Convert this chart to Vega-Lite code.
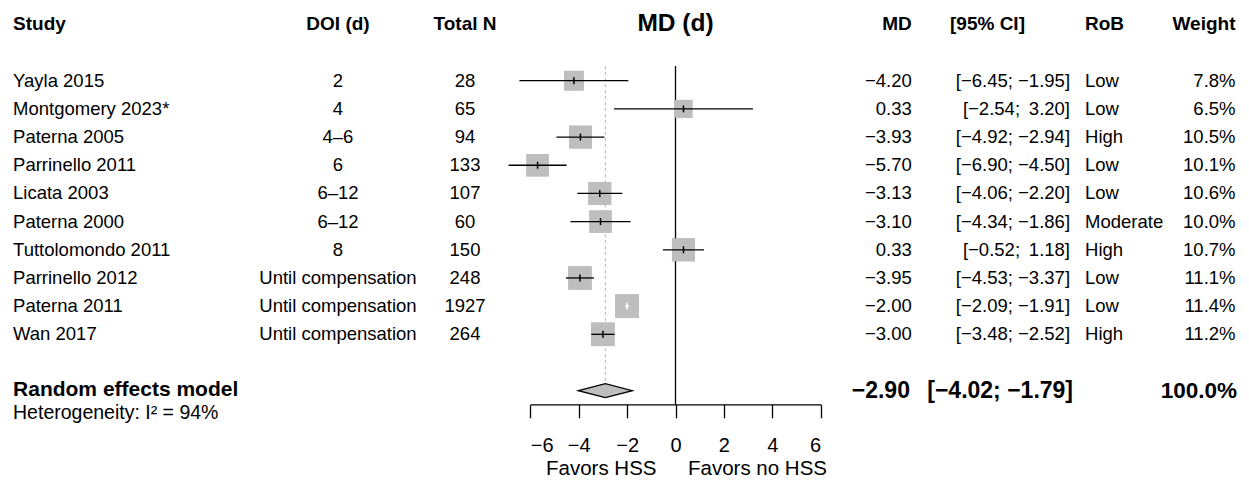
{
  "$schema": "https://vega.github.io/schema/vega-lite/v6.json",
  "width": 1249,
  "height": 487,
  "autosize": "none",
  "padding": 0,
  "background": "white",
  "config": {
    "view": {"stroke": null},
    "font": "Liberation Sans"
  },
  "datasets": {
    "studies": [
      {"row": 1, "study": "Yayla 2015", "doi": "2", "n": "28", "md": -4.20, "lo": -6.45, "hi": -1.95, "rob": "Low", "weight": 7.8, "mdLab": "−4.20", "ciLab": "[−6.45; −1.95]", "wLab": "7.8%"},
      {"row": 2, "study": "Montgomery 2023*", "doi": "4", "n": "65", "md": 0.33, "lo": -2.54, "hi": 3.20, "rob": "Low", "weight": 6.5, "mdLab": "0.33", "ciLab": "[−2.54; \u20093.20]", "wLab": "6.5%"},
      {"row": 3, "study": "Paterna 2005", "doi": "4–6", "n": "94", "md": -3.93, "lo": -4.92, "hi": -2.94, "rob": "High", "weight": 10.5, "mdLab": "−3.93", "ciLab": "[−4.92; −2.94]", "wLab": "10.5%"},
      {"row": 4, "study": "Parrinello 2011", "doi": "6", "n": "133", "md": -5.70, "lo": -6.90, "hi": -4.50, "rob": "Low", "weight": 10.1, "mdLab": "−5.70", "ciLab": "[−6.90; −4.50]", "wLab": "10.1%"},
      {"row": 5, "study": "Licata 2003", "doi": "6–12", "n": "107", "md": -3.13, "lo": -4.06, "hi": -2.20, "rob": "Low", "weight": 10.6, "mdLab": "−3.13", "ciLab": "[−4.06; −2.20]", "wLab": "10.6%"},
      {"row": 6, "study": "Paterna 2000", "doi": "6–12", "n": "60", "md": -3.10, "lo": -4.34, "hi": -1.86, "rob": "Moderate", "weight": 10.0, "mdLab": "−3.10", "ciLab": "[−4.34; −1.86]", "wLab": "10.0%"},
      {"row": 7, "study": "Tuttolomondo 2011", "doi": "8", "n": "150", "md": 0.33, "lo": -0.52, "hi": 1.18, "rob": "High", "weight": 10.7, "mdLab": "0.33", "ciLab": "[−0.52; \u20091.18]", "wLab": "10.7%"},
      {"row": 8, "study": "Parrinello 2012", "doi": "Until compensation", "n": "248", "md": -3.95, "lo": -4.53, "hi": -3.37, "rob": "Low", "weight": 11.1, "mdLab": "−3.95", "ciLab": "[−4.53; −3.37]", "wLab": "11.1%"},
      {"row": 9, "study": "Paterna 2011", "doi": "Until compensation", "n": "1927", "md": -2.00, "lo": -2.09, "hi": -1.91, "rob": "Low", "weight": 11.4, "mdLab": "−2.00", "ciLab": "[−2.09; −1.91]", "wLab": "11.4%"},
      {"row": 10, "study": "Wan 2017", "doi": "Until compensation", "n": "264", "md": -3.00, "lo": -3.48, "hi": -2.52, "rob": "High", "weight": 11.2, "mdLab": "−3.00", "ciLab": "[−3.48; −2.52]", "wLab": "11.2%"}
    ],
    "summary": [
      {"label": "Random effects model", "md": -2.90, "lo": -4.02, "hi": -1.79, "mdLab": "−2.90", "ciLab": "[−4.02; −1.79]", "wLab": "100.0%", "het": "Heterogeneity: I² = 94%"}
    ],
    "headers": [
      {"col": "Study", "label": "Study"},
      {"col": "DOI", "label": "DOI (d)"},
      {"col": "N", "label": "Total N"},
      {"col": "Forest", "label": "MD (d)"},
      {"col": "MD", "label": "MD"},
      {"col": "CI", "label": "[95% CI]"},
      {"col": "RoB", "label": "RoB"},
      {"col": "Weight", "label": "Weight"}
    ],
    "sides": [
      {"side": "left", "label": "Favors HSS"},
      {"side": "right", "label": "Favors no HSS"}
    ]
  },
  "layer": [
    {
      "data": {"name": "studies"},
      "mark": {"type": "square", "filled": true, "color": "#bebebe", "opacity": 1, "strokeWidth": 0},
      "encoding": {
        "x": {
          "field": "md", "type": "quantitative",
          "scale": {"domain": [-6, 6], "range": [530.33, 820.67], "nice": false, "zero": false},
          "axis": {
            "title": null,
            "offset": -82.7,
            "values": [-6, -4, -2, 0, 2, 4, 6],
            "format": "d",
            "grid": false,
            "domainColor": "black",
            "domainWidth": 1.3,
            "tickColor": "black",
            "tickWidth": 1.3,
            "tickSize": 13.5,
            "labelFontSize": 20,
            "labelColor": "black",
            "labelPadding": 18,
            "labelFont": "Liberation Sans"
          }
        },
        "y": {"field": "row", "type": "quantitative", "scale": {"domain": [-1.864, 15.418], "reverse": true, "nice": false, "zero": false}, "axis": null},
        "size": {"field": "weight", "type": "quantitative", "scale": {"domain": [0, 10], "range": [0, 497]}, "legend": null}
      }
    },
    {
      "data": {"name": "summary"},
      "mark": {"type": "rule", "color": "#b0b0b0", "strokeWidth": 1, "strokeDash": [3, 3]},
      "encoding": {
        "x": {"field": "md", "type": "quantitative"},
        "y": {"datum": 0.48, "type": "quantitative"},
        "y2": {"datum": 11.76}
      }
    },
    {
      "data": {"name": "summary"},
      "mark": {"type": "rule", "color": "black", "strokeWidth": 1.3},
      "encoding": {
        "x": {"datum": 0, "type": "quantitative"},
        "y": {"datum": 0.48, "type": "quantitative"},
        "y2": {"datum": 12.48}
      }
    },
    {
      "data": {"name": "studies"},
      "mark": {"type": "square", "filled": true, "color": "#bebebe", "opacity": 1, "strokeWidth": 0},
      "encoding": {
        "x": {"field": "md", "type": "quantitative"},
        "y": {"field": "row", "type": "quantitative"},
        "size": {"field": "weight", "type": "quantitative", "legend": null}
      }
    },
    {
      "data": {"name": "studies"},
      "mark": {"type": "rule", "strokeWidth": 1.3},
      "encoding": {
        "x": {"field": "lo", "type": "quantitative"},
        "x2": {"field": "hi"},
        "y": {"field": "row", "type": "quantitative"},
        "color": {"condition": {"test": "datum.hi - datum.lo < 0.5", "value": "white"}, "value": "black"}
      }
    },
    {
      "data": {"name": "studies"},
      "mark": {"type": "tick", "orient": "vertical", "size": 7, "thickness": 1.5, "opacity": 1},
      "encoding": {
        "x": {"field": "md", "type": "quantitative"},
        "y": {"field": "row", "type": "quantitative"},
        "color": {"condition": {"test": "datum.hi - datum.lo < 0.5", "value": "white"}, "value": "black"}
      }
    },
    {
      "data": {"name": "summary"},
      "mark": {"type": "point", "shape": "M-1,0L0,-0.26L1,0L0,0.26Z", "size": 2911, "filled": true, "fill": "#bebebe", "stroke": "black", "strokeWidth": 1.3, "opacity": 1},
      "encoding": {
        "x": {"field": "md", "type": "quantitative"},
        "y": {"datum": 12, "type": "quantitative"}
      }
    },
    {
      "data": {"name": "studies"},
      "mark": {"type": "text", "align": "left", "baseline": "middle", "fontSize": 18.5, "color": "black"},
      "encoding": {"x": {"datum": -27.38, "type": "quantitative"}, "y": {"field": "row", "type": "quantitative"}, "text": {"field": "study"}}
    },
    {
      "data": {"name": "studies"},
      "mark": {"type": "text", "align": "center", "baseline": "middle", "fontSize": 18.5, "color": "black"},
      "encoding": {"x": {"datum": -13.95, "type": "quantitative"}, "y": {"field": "row", "type": "quantitative"}, "text": {"field": "doi"}}
    },
    {
      "data": {"name": "studies"},
      "mark": {"type": "text", "align": "center", "baseline": "middle", "fontSize": 18.5, "color": "black"},
      "encoding": {"x": {"datum": -8.70, "type": "quantitative"}, "y": {"field": "row", "type": "quantitative"}, "text": {"field": "n"}}
    },
    {
      "data": {"name": "studies"},
      "mark": {"type": "text", "align": "right", "baseline": "middle", "fontSize": 18.5, "color": "black"},
      "encoding": {"x": {"datum": 9.763, "type": "quantitative"}, "y": {"field": "row", "type": "quantitative"}, "text": {"field": "mdLab"}}
    },
    {
      "data": {"name": "studies"},
      "mark": {"type": "text", "align": "right", "baseline": "middle", "fontSize": 18.5, "color": "black"},
      "encoding": {"x": {"datum": 16.306, "type": "quantitative"}, "y": {"field": "row", "type": "quantitative"}, "text": {"field": "ciLab"}}
    },
    {
      "data": {"name": "studies"},
      "mark": {"type": "text", "align": "left", "baseline": "middle", "fontSize": 18.5, "color": "black"},
      "encoding": {"x": {"datum": 16.926, "type": "quantitative"}, "y": {"field": "row", "type": "quantitative"}, "text": {"field": "rob"}}
    },
    {
      "data": {"name": "studies"},
      "mark": {"type": "text", "align": "right", "baseline": "middle", "fontSize": 18.5, "color": "black"},
      "encoding": {"x": {"datum": 23.146, "type": "quantitative"}, "y": {"field": "row", "type": "quantitative"}, "text": {"field": "wLab"}}
    },
    {
      "data": {"name": "headers"},
      "transform": [{"filter": "datum.col === 'Study'"}],
      "mark": {"type": "text", "align": "left", "baseline": "middle", "fontSize": 19, "fontWeight": "bold", "color": "black"},
      "encoding": {"x": {"datum": -27.38, "type": "quantitative"}, "y": {"datum": -1, "type": "quantitative"}, "text": {"field": "label"}}
    },
    {
      "data": {"name": "headers"},
      "transform": [{"filter": "datum.col === 'DOI'"}],
      "mark": {"type": "text", "align": "center", "baseline": "middle", "fontSize": 19, "fontWeight": "bold", "color": "black"},
      "encoding": {"x": {"datum": -13.95, "type": "quantitative"}, "y": {"datum": -1, "type": "quantitative"}, "text": {"field": "label"}}
    },
    {
      "data": {"name": "headers"},
      "transform": [{"filter": "datum.col === 'N'"}],
      "mark": {"type": "text", "align": "center", "baseline": "middle", "fontSize": 19, "fontWeight": "bold", "color": "black"},
      "encoding": {"x": {"datum": -8.70, "type": "quantitative"}, "y": {"datum": -1, "type": "quantitative"}, "text": {"field": "label"}}
    },
    {
      "data": {"name": "headers"},
      "transform": [{"filter": "datum.col === 'Forest'"}],
      "mark": {"type": "text", "align": "center", "baseline": "middle", "fontSize": 24.5, "fontWeight": "bold", "color": "black"},
      "encoding": {"x": {"datum": 0, "type": "quantitative"}, "y": {"datum": -1, "type": "quantitative"}, "text": {"field": "label"}}
    },
    {
      "data": {"name": "headers"},
      "transform": [{"filter": "datum.col === 'MD'"}],
      "mark": {"type": "text", "align": "right", "baseline": "middle", "fontSize": 19, "fontWeight": "bold", "color": "black"},
      "encoding": {"x": {"datum": 9.763, "type": "quantitative"}, "y": {"datum": -1, "type": "quantitative"}, "text": {"field": "label"}}
    },
    {
      "data": {"name": "headers"},
      "transform": [{"filter": "datum.col === 'CI'"}],
      "mark": {"type": "text", "align": "left", "baseline": "middle", "fontSize": 19, "fontWeight": "bold", "color": "black"},
      "encoding": {"x": {"datum": 11.346, "type": "quantitative"}, "y": {"datum": -1, "type": "quantitative"}, "text": {"field": "label"}}
    },
    {
      "data": {"name": "headers"},
      "transform": [{"filter": "datum.col === 'RoB'"}],
      "mark": {"type": "text", "align": "left", "baseline": "middle", "fontSize": 19, "fontWeight": "bold", "color": "black"},
      "encoding": {"x": {"datum": 16.926, "type": "quantitative"}, "y": {"datum": -1, "type": "quantitative"}, "text": {"field": "label"}}
    },
    {
      "data": {"name": "headers"},
      "transform": [{"filter": "datum.col === 'Weight'"}],
      "mark": {"type": "text", "align": "right", "baseline": "middle", "fontSize": 19, "fontWeight": "bold", "color": "black"},
      "encoding": {"x": {"datum": 23.146, "type": "quantitative"}, "y": {"datum": -1, "type": "quantitative"}, "text": {"field": "label"}}
    },
    {
      "data": {"name": "summary"},
      "mark": {"type": "text", "align": "left", "baseline": "middle", "fontSize": 21, "fontWeight": "bold", "color": "black"},
      "encoding": {"x": {"datum": -27.38, "type": "quantitative"}, "y": {"datum": 11.98, "type": "quantitative"}, "text": {"field": "label"}}
    },
    {
      "data": {"name": "summary"},
      "mark": {"type": "text", "align": "right", "baseline": "middle", "fontSize": 23, "fontWeight": "bold", "color": "black"},
      "encoding": {"x": {"datum": 9.69, "type": "quantitative"}, "y": {"datum": 12, "type": "quantitative"}, "text": {"field": "mdLab"}}
    },
    {
      "data": {"name": "summary"},
      "mark": {"type": "text", "align": "right", "baseline": "middle", "fontSize": 23, "fontWeight": "bold", "color": "black"},
      "encoding": {"x": {"datum": 16.43, "type": "quantitative"}, "y": {"datum": 12, "type": "quantitative"}, "text": {"field": "ciLab"}}
    },
    {
      "data": {"name": "summary"},
      "mark": {"type": "text", "align": "right", "baseline": "middle", "fontSize": 22.5, "fontWeight": "bold", "color": "black"},
      "encoding": {"x": {"datum": 23.21, "type": "quantitative"}, "y": {"datum": 12, "type": "quantitative"}, "text": {"field": "wLab"}}
    },
    {
      "data": {"name": "summary"},
      "mark": {"type": "text", "align": "left", "baseline": "middle", "fontSize": 19.5, "color": "black"},
      "encoding": {"x": {"datum": -27.38, "type": "quantitative"}, "y": {"datum": 12.8, "type": "quantitative"}, "text": {"field": "het"}}
    },
    {
      "data": {"name": "sides"},
      "transform": [{"filter": "datum.side === 'left'"}],
      "mark": {"type": "text", "align": "right", "baseline": "middle", "fontSize": 20.5, "dx": -19, "color": "black"},
      "encoding": {"x": {"datum": 0, "type": "quantitative"}, "y": {"datum": 14.77, "type": "quantitative"}, "text": {"field": "label"}}
    },
    {
      "data": {"name": "sides"},
      "transform": [{"filter": "datum.side === 'right'"}],
      "mark": {"type": "text", "align": "left", "baseline": "middle", "fontSize": 20.5, "dx": 12.5, "color": "black"},
      "encoding": {"x": {"datum": 0, "type": "quantitative"}, "y": {"datum": 14.77, "type": "quantitative"}, "text": {"field": "label"}}
    }
  ]
}
